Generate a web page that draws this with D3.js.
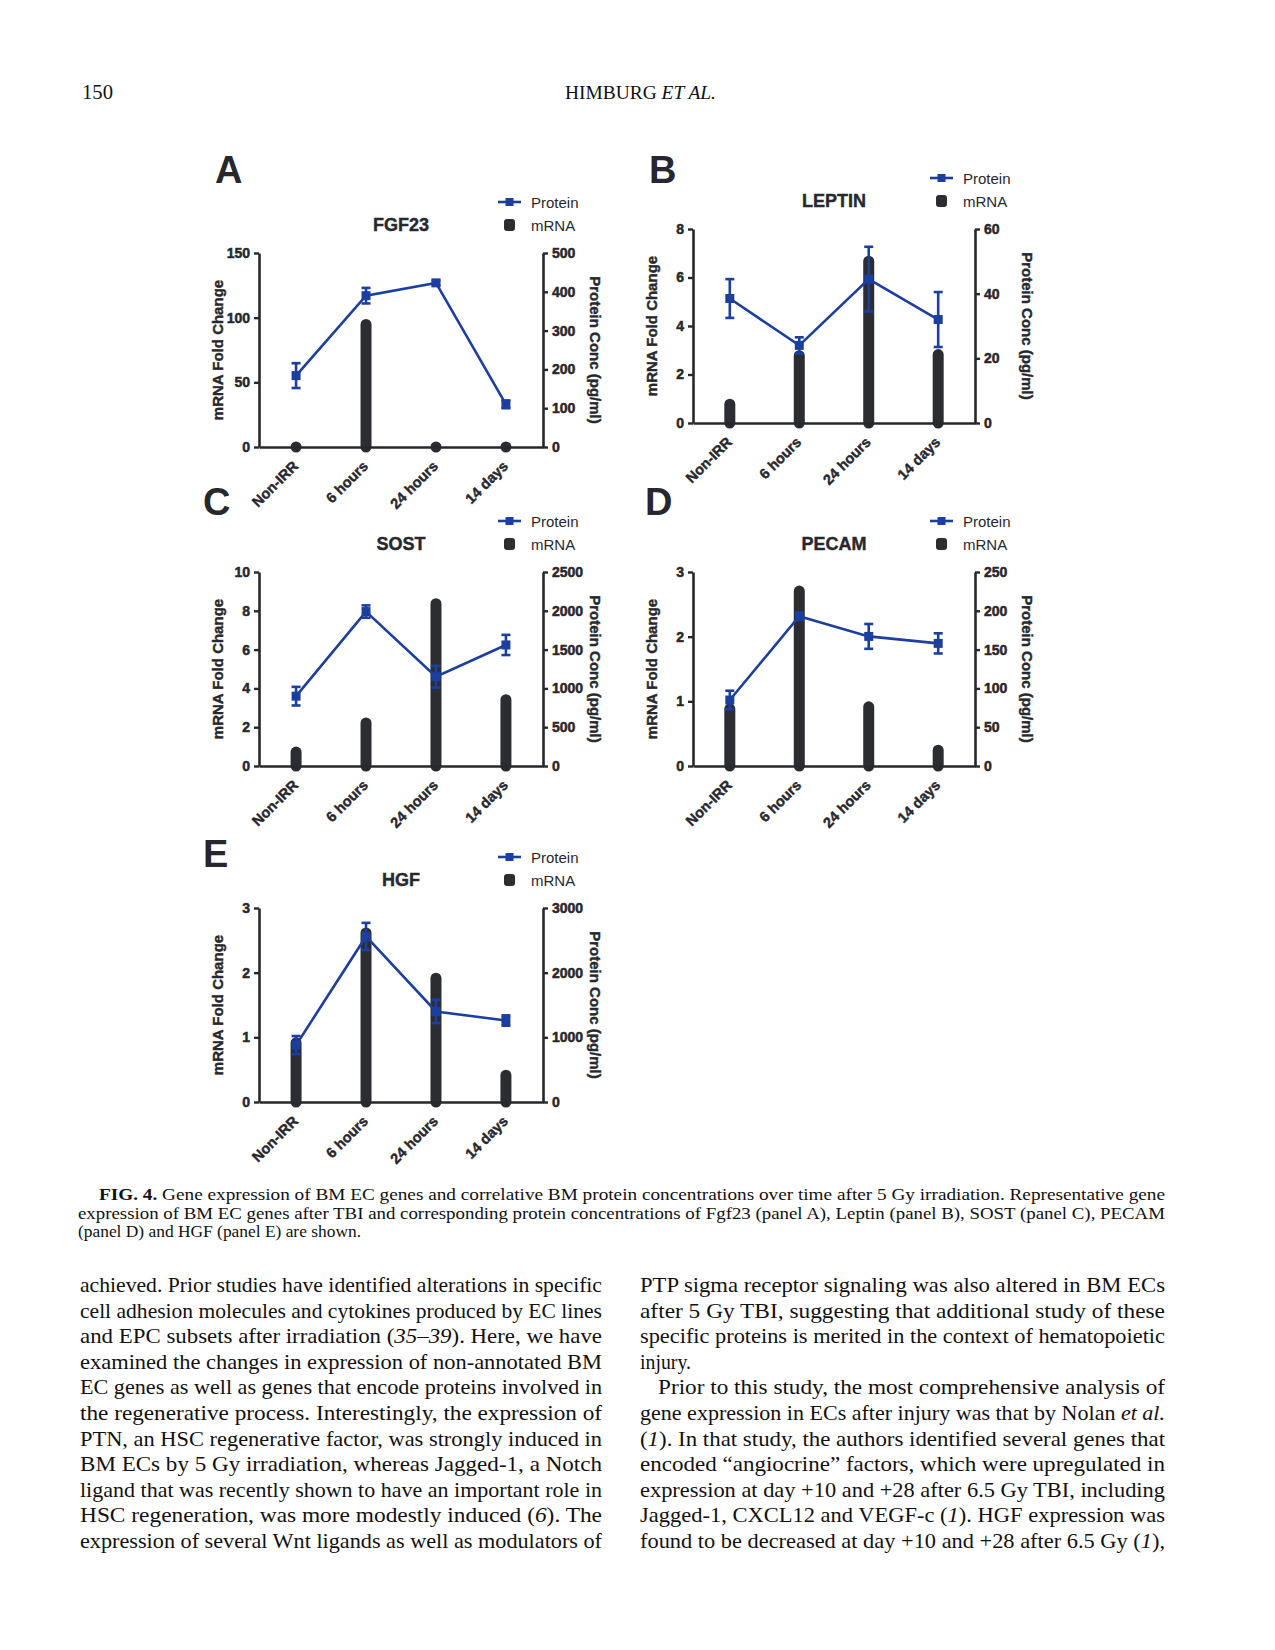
<!DOCTYPE html>
<html><head><meta charset="utf-8">
<script src="https://cdn.jsdelivr.net/npm/d3@7"></script>
<style>body{margin:0;background:#fff} svg{display:block}</style>
</head><body><svg id="c" width="1275" height="1650"></svg>
<script>
// ---------------- DATA ----------------
const categories = ["Non-IRR", "6 hours", "24 hours", "14 days"];
const genes = ["FGF23", "LEPTIN", "SOST", "PECAM", "HGF"];
const panelLetters = ["A", "B", "C", "D", "E"];
const legendLabels = ["Protein", "mRNA"];
const leftAxisTitle = "mRNA Fold Change";
const rightAxisTitle = "Protein Conc (pg/ml)";

const mrnaFGF23 = [1, 99, 4, 2];
const proteinFGF23 = [184, 390, 423, 110];
const proteinErrFGF23 = [32, 20, 6, 10];
const leftTicksFGF23 = [0, 50, 100, 150];
const rightTicksFGF23 = [0, 100, 200, 300, 400, 500];

const mrnaLEPTIN = [1.0, 3.0, 6.9, 3.05];
const proteinLEPTIN = [38.5, 24, 44.5, 32];
const proteinErrLEPTIN = [6, 2.5, 10, 8.5];
const leftTicksLEPTIN = [0, 2, 4, 6, 8];
const rightTicksLEPTIN = [0, 20, 40, 60];

const mrnaSOST = [1.0, 2.5, 8.65, 3.7];
const proteinSOST = [900, 1990, 1150, 1560];
const proteinErrSOST = [120, 80, 140, 130];
const leftTicksSOST = [0, 2, 4, 6, 8, 10];
const rightTicksSOST = [0, 500, 1000, 1500, 2000, 2500];

const mrnaPECAM = [0.97, 2.79, 1.0, 0.33];
const proteinPECAM = [85, 193, 167, 158];
const proteinErrPECAM = [12, 5, 16, 13];
const leftTicksPECAM = [0, 1, 2, 3];
const rightTicksPECAM = [0, 50, 100, 150, 200, 250];

const mrnaHGF = [1.0, 2.7, 2.0, 0.5];
const proteinHGF = [880, 2560, 1400, 1260];
const proteinErrHGF = [140, 210, 180, 80];
const leftTicksHGF = [0, 1, 2, 3];
const rightTicksHGF = [0, 1000, 2000, 3000];

const headerPage = "150";
const headerRunning = ["HIMBURG ", "ET AL."];
const captionLines = [
  "*FIG. 4.* Gene expression of BM EC genes and correlative BM protein concentrations over time after 5 Gy irradiation. Representative gene",
  "expression of BM EC genes after TBI and corresponding protein concentrations of Fgf23 (panel A), Leptin (panel B), SOST (panel C), PECAM",
  "(panel D) and HGF (panel E) are shown."
];
const bodyLeft = [
  "achieved. Prior studies have identified alterations in specific",
  "cell adhesion molecules and cytokines produced by EC lines",
  "and EPC subsets after irradiation (_35–39_). Here, we have",
  "examined the changes in expression of non-annotated BM",
  "EC genes as well as genes that encode proteins involved in",
  "the regenerative process. Interestingly, the expression of",
  "PTN, an HSC regenerative factor, was strongly induced in",
  "BM ECs by 5 Gy irradiation, whereas Jagged-1, a Notch",
  "ligand that was recently shown to have an important role in",
  "HSC regeneration, was more modestly induced (_6_). The",
  "expression of several Wnt ligands as well as modulators of"
];
const bodyRight = [
  "PTP sigma receptor signaling was also altered in BM ECs",
  "after 5 Gy TBI, suggesting that additional study of these",
  "specific proteins is merited in the context of hematopoietic",
  "injury.",
  "Prior to this study, the most comprehensive analysis of",
  "gene expression in ECs after injury was that by Nolan _et al._",
  "(_1_). In that study, the authors identified several genes that",
  "encoded “angiocrine” factors, which were upregulated in",
  "expression at day +10 and +28 after 6.5 Gy TBI, including",
  "Jagged-1, CXCL12 and VEGF-c (_1_). HGF expression was",
  "found to be decreased at day +10 and +28 after 6.5 Gy (_1_),"
];

const panels = [
  {gene: genes[0], letter: panelLetters[0], mrna: mrnaFGF23, protein: proteinFGF23, err: proteinErrFGF23, lt: leftTicksFGF23, rt: rightTicksFGF23},
  {gene: genes[1], letter: panelLetters[1], mrna: mrnaLEPTIN, protein: proteinLEPTIN, err: proteinErrLEPTIN, lt: leftTicksLEPTIN, rt: rightTicksLEPTIN},
  {gene: genes[2], letter: panelLetters[2], mrna: mrnaSOST, protein: proteinSOST, err: proteinErrSOST, lt: leftTicksSOST, rt: rightTicksSOST},
  {gene: genes[3], letter: panelLetters[3], mrna: mrnaPECAM, protein: proteinPECAM, err: proteinErrPECAM, lt: leftTicksPECAM, rt: rightTicksPECAM},
  {gene: genes[4], letter: panelLetters[4], mrna: mrnaHGF, protein: proteinHGF, err: proteinErrHGF, lt: leftTicksHGF, rt: rightTicksHGF}
];

// ---------------- LAYOUT ----------------
const layout = [
  {left: 259, right: 543, top: 253, bottom: 447, lx: 215, ly: 183},
  {left: 693, right: 975, top: 229, bottom: 423, lx: 649, ly: 183},
  {left: 259, right: 543, top: 572, bottom: 766, lx: 203, ly: 515},
  {left: 693, right: 975, top: 572, bottom: 766, lx: 645, ly: 515},
  {left: 259, right: 543, top: 908, bottom: 1102, lx: 203, ly: 867}
];
const INK = "#27282d";
const BAR = "#2b2d33";
const BLUE = "#1c3f9f";
const SANS = "'Liberation Sans', Arial, sans-serif";
const SERIF = "'Liberation Serif', 'Times New Roman', serif";

const svg = d3.select("#c");
svg.append("rect").attr("width", 1275).attr("height", 1650).attr("fill", "#fff");

function heavy(sel, w) {
  return sel.attr("stroke", INK).attr("stroke-width", w).attr("paint-order", "stroke");
}

panels.forEach((p, i) => {
  const L = layout[i];
  const g = svg.append("g");
  const x = d3.scalePoint().domain(categories).range([L.left, L.right]).padding(0.53);
  const yL = d3.scaleLinear().domain([0, d3.max(p.lt)]).range([L.bottom, L.top]);
  const yR = d3.scaleLinear().domain([0, d3.max(p.rt)]).range([L.bottom, L.top]);

  // bars (mRNA) drawn as thick round-capped strokes
  const bw = 11;
  g.selectAll("line.bar").data(p.mrna).join("line")
    .attr("x1", (d, j) => x(categories[j])).attr("x2", (d, j) => x(categories[j]))
    .attr("y1", L.bottom).attr("y2", d => Math.min(L.bottom, yL(d) + bw / 2))
    .attr("stroke", BAR).attr("stroke-width", bw).attr("stroke-linecap", "round");

  // axes
  const axL = g.append("g").attr("transform", `translate(${L.left},0)`)
    .call(d3.axisLeft(yL).tickValues(p.lt).tickSize(5).tickSizeOuter(0).tickPadding(4).tickFormat(d3.format("d")));
  const axR = g.append("g").attr("transform", `translate(${L.right},0)`)
    .call(d3.axisRight(yR).tickValues(p.rt).tickSize(5).tickSizeOuter(0).tickPadding(4).tickFormat(d3.format("d")));
  const axB = g.append("g").attr("transform", `translate(0,${L.bottom})`)
    .call(d3.axisBottom(x).tickSize(5).tickSizeOuter(0).tickFormat(""));
  [axL, axR, axB].forEach(a => {
    a.select(".domain").attr("stroke", INK).attr("stroke-width", 2.6);
    a.selectAll(".tick line").attr("stroke", INK).attr("stroke-width", 2.4);
    heavy(a.selectAll(".tick text").attr("fill", INK).attr("font-family", SANS)
      .attr("font-weight", "bold").attr("font-size", 14), 0.5);
  });

  // category labels
  heavy(g.selectAll("text.cat").data(categories).join("text")
    .attr("transform", d => `translate(${x(d) + 3},${L.bottom + 20}) rotate(-45)`)
    .attr("text-anchor", "end").attr("font-family", SANS).attr("font-weight", "bold")
    .attr("font-size", 14.5).attr("fill", INK).text(d => d), 0.4);

  // protein line
  const pts = p.protein.map((v, j) => [x(categories[j]), yR(v)]);
  g.append("path").attr("d", d3.line()(pts)).attr("fill", "none")
    .attr("stroke", BLUE).attr("stroke-width", 2.6);
  // error bars
  p.protein.forEach((v, j) => {
    const cx = x(categories[j]);
    const y1 = yR(v + p.err[j]), y2 = yR(v - p.err[j]);
    g.append("line").attr("x1", cx).attr("x2", cx).attr("y1", y1).attr("y2", y2)
      .attr("stroke", BLUE).attr("stroke-width", 2.6);
    [y1, y2].forEach(yy => g.append("line").attr("x1", cx - 4.5).attr("x2", cx + 4.5)
      .attr("y1", yy).attr("y2", yy).attr("stroke", BLUE).attr("stroke-width", 2.6));
  });
  g.selectAll("rect.mk").data(pts).join("rect")
    .attr("x", d => d[0] - 4.5).attr("y", d => d[1] - 4.5)
    .attr("width", 9).attr("height", 9).attr("fill", BLUE);

  // title
  heavy(g.append("text").attr("x", (L.left + L.right) / 2).attr("y", L.top - 22)
    .attr("text-anchor", "middle").attr("font-family", SANS).attr("font-weight", "bold")
    .attr("font-size", 18).attr("fill", INK).text(p.gene), 0.4);

  // legend
  const lg = g.append("g");
  lg.append("line").attr("x1", L.right - 45).attr("x2", L.right - 22)
    .attr("y1", L.top - 51).attr("y2", L.top - 51).attr("stroke", BLUE).attr("stroke-width", 2.6);
  lg.append("rect").attr("x", L.right - 37.5).attr("y", L.top - 55).attr("width", 8).attr("height", 8).attr("fill", BLUE);
  lg.append("rect").attr("x", L.right - 39).attr("y", L.top - 34).attr("width", 11).attr("height", 12)
    .attr("rx", 3).attr("fill", BAR);
  lg.selectAll("text").data(legendLabels).join("text")
    .attr("x", L.right - 12).attr("y", (d, k) => L.top - 45 + k * 23)
    .attr("font-family", SANS).attr("font-size", 15).attr("fill", INK).text(d => d);

  // axis titles
  heavy(g.append("text").attr("transform", `translate(${L.left - 42},${(L.top + L.bottom) / 2}) rotate(-90)`)
    .attr("text-anchor", "middle").attr("dominant-baseline", "central")
    .attr("font-family", SANS).attr("font-weight", "bold").attr("font-size", 15).attr("fill", INK)
    .text(leftAxisTitle), 0.4);
  heavy(g.append("text").attr("transform", `translate(${L.right + 52},${(L.top + L.bottom) / 2}) rotate(90)`)
    .attr("text-anchor", "middle").attr("dominant-baseline", "central")
    .attr("font-family", SANS).attr("font-weight", "bold").attr("font-size", 15).attr("fill", INK)
    .text(rightAxisTitle), 0.4);

  // panel letter
  g.append("text").attr("x", L.lx).attr("y", L.ly).attr("font-family", SANS)
    .attr("font-weight", "bold").attr("font-size", 38).attr("fill", INK).text(p.letter);
});

// ---------------- PAGE TEXT ----------------
function richLine(x, y, str, size, width) {
  const t = svg.append("text").attr("x", x).attr("y", y).attr("font-family", SERIF)
    .attr("font-size", size).attr("fill", "#111");
  const parts = str.split(/(\*[^*]+\*|_[^_]+_)/).filter(s => s.length);
  parts.forEach(s => {
    const ts = t.append("tspan");
    if (s.startsWith("*")) ts.attr("font-weight", "bold").text(s.slice(1, -1));
    else if (s.startsWith("_")) ts.attr("font-style", "italic").text(s.slice(1, -1));
    else ts.text(s);
  });
  if (width) t.attr("textLength", width).attr("lengthAdjust", "spacingAndGlyphs");
  return t;
}

// header
svg.append("text").attr("x", 82).attr("y", 99).attr("font-family", SERIF).attr("font-size", 22)
  .attr("fill", "#111").attr("textLength", 31).attr("lengthAdjust", "spacingAndGlyphs").text(headerPage);
const hr = svg.append("text").attr("x", 565).attr("y", 99).attr("font-family", SERIF).attr("font-size", 19)
  .attr("fill", "#111").attr("textLength", 151).attr("lengthAdjust", "spacingAndGlyphs");
hr.append("tspan").text(headerRunning[0]);
hr.append("tspan").attr("font-style", "italic").text(headerRunning[1]);

// caption
richLine(99, 1200, captionLines[0], 17, 1066);
richLine(78, 1218.5, captionLines[1], 17, 1087);
richLine(78, 1237, captionLines[2], 17, 283);

// body columns
const lh = 25.6;
bodyLeft.forEach((s, k) => richLine(80, 1292 + k * lh, s, 22, 522));
bodyRight.forEach((s, k) => {
  if (k === 3) richLine(640, 1292 + k * lh, s, 22, 51);
  else if (k === 4) richLine(658, 1292 + k * lh, s, 22, 507);
  else richLine(640, 1292 + k * lh, s, 22, 525);
});
</script></body></html>
